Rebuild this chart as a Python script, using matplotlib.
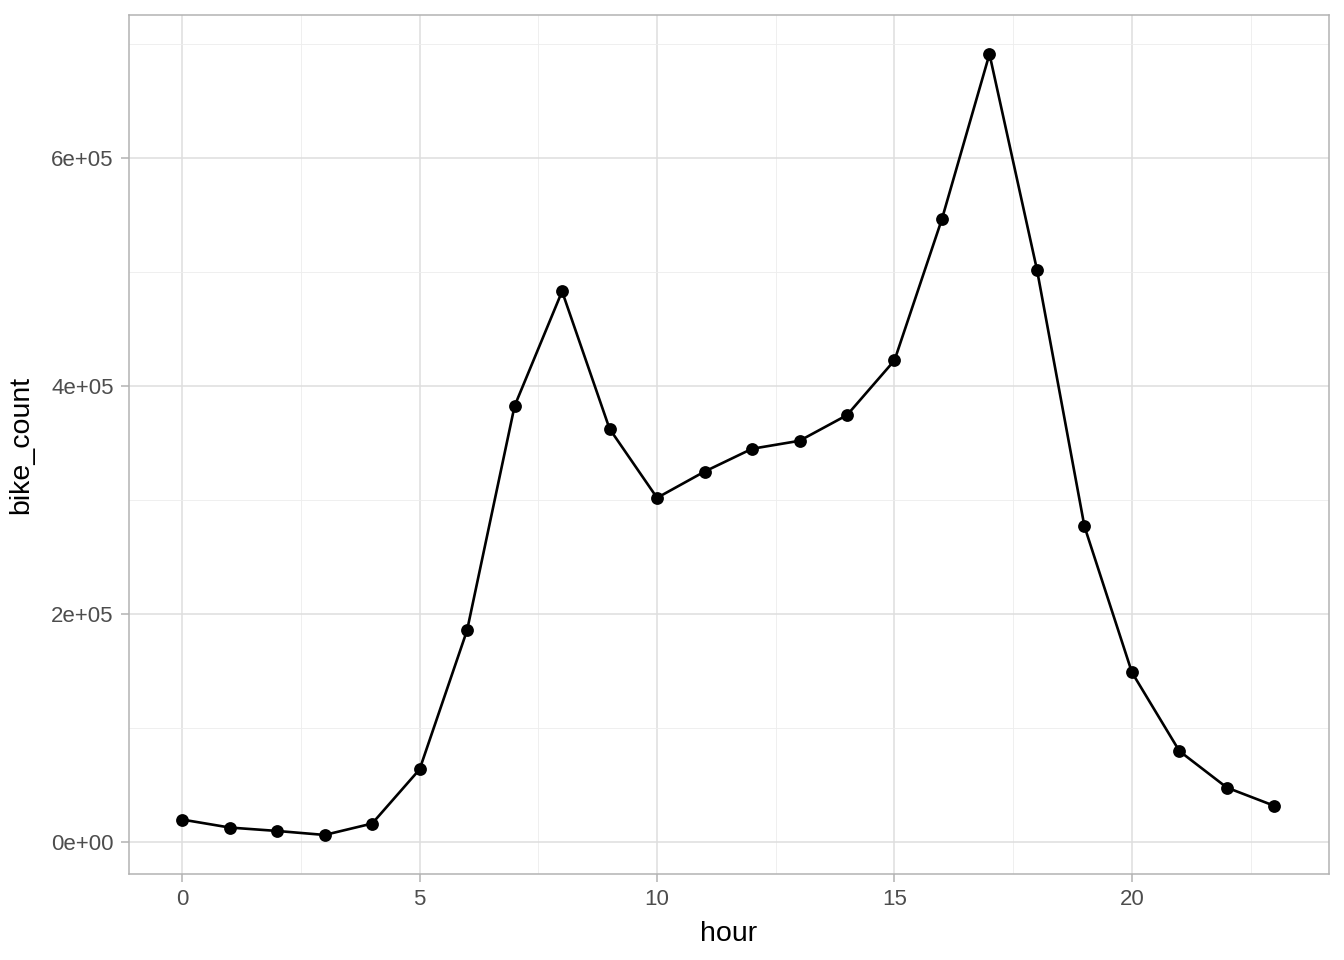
import matplotlib
matplotlib.use("Agg")
import matplotlib.pyplot as plt
from matplotlib.ticker import MultipleLocator

hours = list(range(24))
bike_count = [20000, 13000, 10000, 6500, 16500, 64000, 186000, 382500, 483000,
              362500, 302000, 325000, 345000, 352000, 374500, 422500, 546500,
              691000, 502000, 277000, 149000, 80000, 48000, 32000]
y_ticks = [0, 200000, 400000, 600000]
y_labels = ["0e+00", "2e+05", "4e+05", "6e+05"]
x_ticks = [0, 5, 10, 15, 20]

plt.rcParams['font.family'] = ['Liberation Sans', 'DejaVu Sans']

fig = plt.figure(figsize=(13.44, 9.6), dpi=100)
ax = fig.add_axes([129/1344, 1 - 874/960, (1329-129)/1344, (874-15)/960])

ax.plot(hours, bike_count, color='black', lw=1.9, zorder=3)
ax.scatter(hours, bike_count, color='black', s=85, zorder=4, linewidths=0)

rng = max(bike_count) - min(bike_count)
ax.set_ylim(min(bike_count) - 0.05 * rng, max(bike_count) + 0.05 * rng)
ax.set_xlim(-0.05 * 23 + 0.03, 23 + 0.05 * 23)

ax.set_xticks(x_ticks)
ax.set_xticklabels([str(t) for t in x_ticks])
ax.set_yticks(y_ticks)
ax.set_yticklabels(y_labels)
ax.xaxis.set_minor_locator(MultipleLocator(2.5))
ax.yaxis.set_minor_locator(MultipleLocator(100000))

ax.grid(which='major', color='#DEDEDE', lw=1.1, zorder=0)
ax.grid(which='minor', color='#EDEDED', lw=0.6, zorder=0)
ax.set_axisbelow(True)

for s in ax.spines.values():
    s.set_color('#B3B3B3')
    s.set_linewidth(1.1)

ax.tick_params(which='major', length=6, color='#B3B3B3', width=1.1,
               labelsize=16, labelcolor='#4D4D4D', pad=5)
ax.tick_params(which='minor', length=0)

ax.set_xlabel('hour', fontsize=20.5, color='black', labelpad=8)
ax.set_ylabel('bike_count', fontsize=20.5, color='black', labelpad=12)

fig.savefig('out.png', dpi=100)
